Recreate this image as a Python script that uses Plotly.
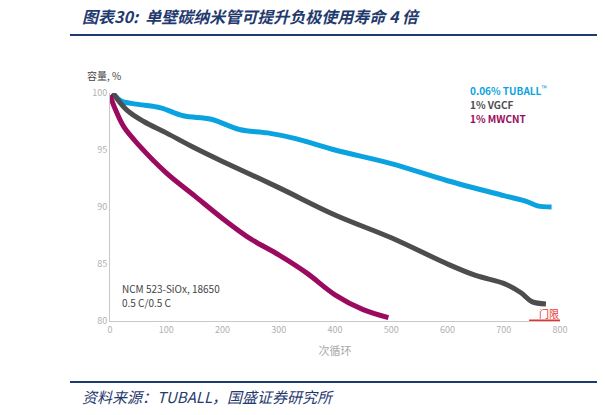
import plotly.graph_objects as go

tuball_x = [5, 20, 50, 90, 130, 180, 230, 280, 330, 400, 500, 600, 700, 740, 760, 785]
tuball_y = [100, 99.3, 99.0, 98.7, 98.0, 97.7, 96.8, 96.5, 96.0, 95.0, 93.8, 92.3, 91.0, 90.5, 90.1, 90.0]
vgcf_x = [5, 30, 60, 100, 150, 200, 300, 400, 500, 600, 650, 700, 730, 750, 775]
vgcf_y = [100, 98.5, 97.5, 96.5, 95.2, 94.0, 91.7, 89.3, 87.3, 85.0, 84.0, 83.3, 82.5, 81.7, 81.5]
mwcnt_x = [0, 10, 25, 50, 100, 150, 200, 250, 300, 350, 400, 450, 495]
mwcnt_y = [99.8, 98.5, 97.0, 95.5, 93.0, 91.0, 89.0, 87.2, 85.8, 84.2, 82.3, 81.0, 80.3]
thr_x = [745, 825]
thr_y = [80, 80]
names = ["0.06% TUBALL™", "1% VGCF", "1% MWCNT"]
colors = ["#0aa3e0", "#4d4d4f", "#9a0a5e"]

O = 8  # page body offset
L, R, T, B = 110 - O, 560 - O, 93 - O, 321 - O
def px(x): return (x - O - L) / (R - L)
def py(y): return (B - (y - O)) / (B - T)

fig = go.Figure()
for xs, ys, n, c in [(tuball_x, tuball_y, names[0], colors[0]), (vgcf_x, vgcf_y, names[1], colors[1]), (mwcnt_x, mwcnt_y, names[2], colors[2])]:
    fig.add_trace(go.Scatter(x=xs, y=ys, mode="lines", name=n, line=dict(color=c, width=5, shape="spline")))
fig.add_trace(go.Scatter(x=thr_x, y=thr_y, mode="lines", line=dict(color="#e8322b", width=3), showlegend=False, cliponaxis=False))

fig.update_layout(
    width=605, height=415, margin=dict(l=L, r=605-R, t=T, b=415-B, autoexpand=False),
    paper_bgcolor="white", plot_bgcolor="white", showlegend=False,
    font=dict(family="Noto Sans CJK SC", color="#b0b0b0", size=9),
    xaxis=dict(range=[0, 800], tickvals=[0,100,200,300,400,500,600,700,800], showgrid=False, zeroline=False,
               showline=True, linecolor="#c8c8c8", ticks="", title=dict(text="次循环", font=dict(size=11, color="#a8a8a8"), standoff=12)),
    yaxis=dict(range=[80, 100], tickvals=[80,85,90,95,100], showgrid=False, zeroline=False,
               showline=True, linecolor="#c8c8c8", ticks=""),
)
ann = [
    dict(x=px(80), y=py(16), text="<i><b>图表30:  单壁碳纳米管可提升负极使用寿命 4 倍</b></i>", font=dict(size=16, color="#1f3a6e"), xanchor="left", yanchor="middle"),
    dict(x=px(80), y=py(396), text="<i>资料来源：TUBALL，国盛证券研究所</i>", font=dict(size=15, color="#1f3a6e"), xanchor="left", yanchor="middle"),
    dict(x=px(85), y=py(75), text="容量, %", font=dict(size=10, color="#444"), xanchor="left", yanchor="middle"),
    dict(x=px(468), y=py(90), text="<b>0.06% TUBALL</b><sup>™</sup>", font=dict(size=10, color=colors[0]), xanchor="left", yanchor="middle"),
    dict(x=px(468), y=py(104), text="<b>1% VGCF</b>", font=dict(size=10, color=colors[1]), xanchor="left", yanchor="middle"),
    dict(x=px(468), y=py(118), text="<b>1% MWCNT</b>", font=dict(size=10, color=colors[2]), xanchor="left", yanchor="middle"),
    dict(x=px(120), y=py(288), text="NCM 523-SiOx, 18650", font=dict(size=10, color="#444"), xanchor="left", yanchor="middle"),
    dict(x=px(120), y=py(302), text="0.5 C/0.5 C", font=dict(size=10, color="#444"), xanchor="left", yanchor="middle"),
    dict(x=px(549), y=py(313), text="门限", font=dict(size=10, color="#e8322b"), xanchor="center", yanchor="middle"),
]
for a in ann:
    a.update(xref="paper", yref="paper", showarrow=False)
fig.update_layout(annotations=ann, shapes=[
    dict(type="line", xref="paper", yref="paper", x0=px(70), x1=px(600), y0=py(35), y1=py(35), line=dict(color="#1f3a6e", width=2)),
    dict(type="line", xref="paper", yref="paper", x0=px(70), x1=px(600), y0=py(382), y1=py(382), line=dict(color="#1f3a6e", width=2)),
])
fig.write_html("out.html")
